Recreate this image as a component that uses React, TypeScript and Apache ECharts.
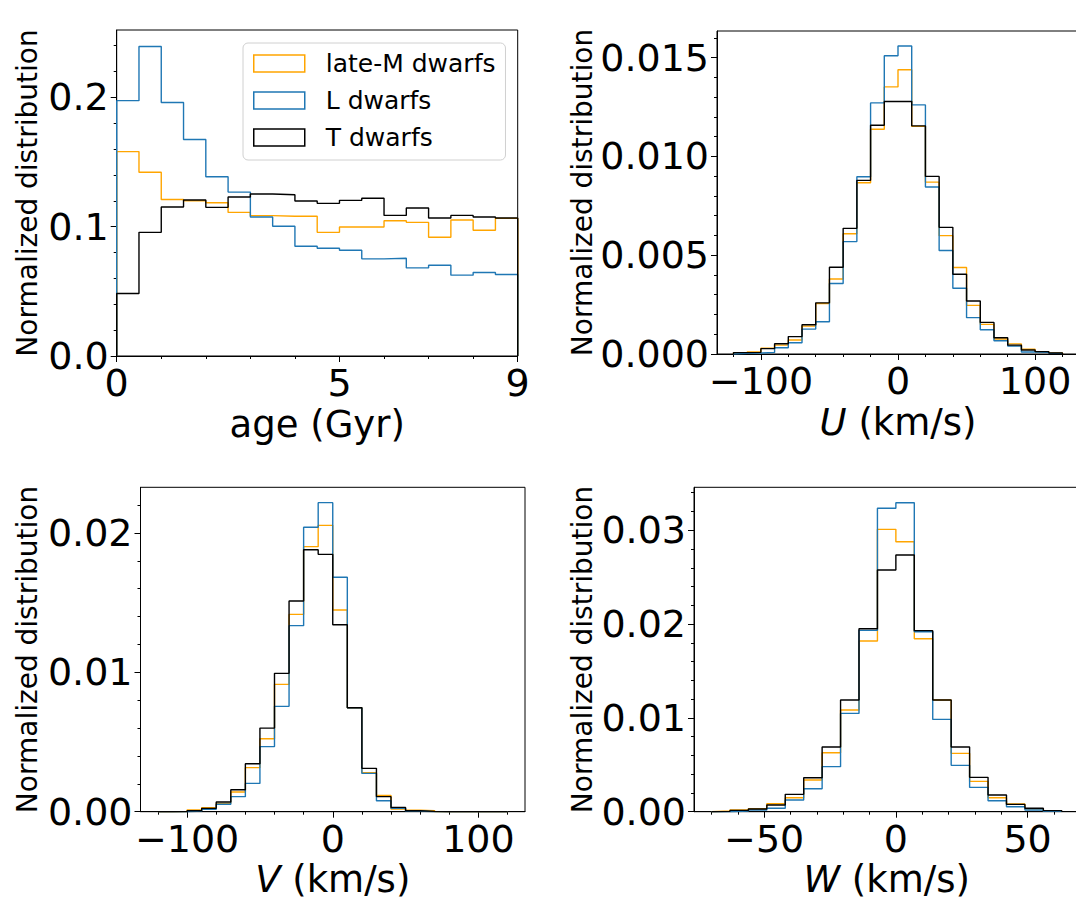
import React, { useEffect, useRef } from "react";
import * as echarts from "echarts";

const FONT = "DejaVu Sans";
const SERIES_NAMES = ["late-M dwarfs", "L dwarfs", "T dwarfs"];
const SERIES_COLORS = ["#FFA500", "#1f77b4", "#000000"];

// ---- age panel (bins of 0.5 Gyr) ----
const AGE_EDGES = [0, 0.5, 1, 1.5, 2, 2.5, 3, 3.5, 4, 4.5, 5, 5.5, 6, 6.5, 7, 7.5, 8, 8.5, 9];
const AGE_LATE_M = [0.158, 0.142, 0.121, 0.12, 0.1185, 0.111, 0.1085, 0.108, 0.108, 0.0956, 0.0997, 0.0997, 0.1046, 0.1033, 0.0918, 0.1051, 0.0972, 0.1064];
const AGE_L = [0.1974, 0.2393, 0.1959, 0.1674, 0.1386, 0.1267, 0.1074, 0.1003, 0.0848, 0.0833, 0.0817, 0.0751, 0.0756, 0.0681, 0.0702, 0.0625, 0.0645, 0.063];
const AGE_T = [0.0483, 0.0956, 0.1152, 0.1206, 0.1149, 0.1229, 0.1252, 0.1247, 0.1198, 0.118, 0.1203, 0.1219, 0.1087, 0.1144, 0.1067, 0.1087, 0.1075, 0.1067];

// ---- U and V panels (bins of 10 km/s) ----
const UV_EDGES = [-120, -110, -100, -90, -80, -70, -60, -50, -40, -30, -20, -10, 0, 10, 20, 30, 40, 50, 60, 70, 80, 90, 100, 110, 120];
const U_LATE_M = [0.00005, 0.0001, 0.00029, 0.00045, 0.00071, 0.00141, 0.00256, 0.0038, 0.00609, 0.00867, 0.01138, 0.01352, 0.01439, 0.01152, 0.0087, 0.00599, 0.00438, 0.00246, 0.0015, 0.00076, 0.00051, 0.00024, 0.00012, 0.00005];
const U_L = [0.00003, 0.00005, 0.00008, 0.00032, 0.00057, 0.00126, 0.00163, 0.00357, 0.00569, 0.00897, 0.01271, 0.0151, 0.01559, 0.01261, 0.00845, 0.00524, 0.00333, 0.00184, 0.00123, 0.00067, 0.0004, 0.0001, 0.00008, 0.00003];
const U_T = [0.00007, 0.00008, 0.00027, 0.00052, 0.00088, 0.00148, 0.00259, 0.00439, 0.00636, 0.00879, 0.01158, 0.01278, 0.01279, 0.01155, 0.00899, 0.00641, 0.00404, 0.00268, 0.0016, 0.00082, 0.00045, 0.0002, 0.00012, 0.00005];
const V_LATE_M = [0, 0.00001, 0.00012, 0.00029, 0.0006, 0.00141, 0.00316, 0.00524, 0.00914, 0.01416, 0.01902, 0.02055, 0.01447, 0.00746, 0.0028, 0.00117, 0.00019, 0.0001, 0.00007, 0, 0, 0, 0, 0];
const V_L = [0, 0, 0.00005, 0.00017, 0.00053, 0.00108, 0.00203, 0.00467, 0.00756, 0.01335, 0.02041, 0.02218, 0.01682, 0.00746, 0.00275, 0.00079, 0.00024, 0.00005, 0, 0, 0, 0, 0, 0];
const V_T = [0, 0.00001, 0.00007, 0.00024, 0.0007, 0.00158, 0.00344, 0.006, 0.00993, 0.01512, 0.0188, 0.01847, 0.01342, 0.00746, 0.00311, 0.00108, 0.00031, 0.00007, 0.00002, 0, 0, 0, 0, 0];

// ---- W panel (bins of 7 km/s) ----
const W_EDGES = [-70, -63, -56, -49, -42, -35, -28, -21, -14, -7, 0, 7, 14, 21, 28, 35, 42, 49, 56, 63];
const W_LATE_M = [0.00007, 0.00018, 0.00032, 0.00085, 0.00149, 0.00338, 0.00629, 0.01084, 0.0182, 0.0301, 0.02878, 0.01844, 0.0119, 0.00622, 0.00323, 0.00149, 0.00082, 0.00032, 0.00007];
const W_L = [0, 0.00007, 0.00018, 0.00036, 0.00124, 0.00245, 0.0048, 0.01048, 0.01933, 0.03234, 0.03294, 0.01919, 0.00984, 0.00494, 0.00259, 0.00117, 0.00053, 0.00018, 0.00004];
const W_T = [0.00004, 0.00014, 0.00028, 0.00071, 0.00185, 0.00362, 0.00689, 0.0119, 0.0195, 0.02576, 0.02736, 0.0193, 0.0119, 0.00689, 0.00366, 0.00178, 0.00078, 0.00036, 0.00011];

// ---- ticks ----
const AGE_X_MAJOR = [0, 5, 9];
const AGE_X_MINOR = [1, 2, 3, 4, 6, 7, 8];
const AGE_Y_MAJOR = [0, 0.1, 0.2];
const AGE_Y_MINOR = [0.02, 0.04, 0.06, 0.08, 0.12, 0.14, 0.16, 0.18, 0.22, 0.24];
const UV_X_MAJOR = [-100, 0, 100];
const UV_X_MINOR = [-120, -80, -60, -40, -20, 20, 40, 60, 80, 120];
const U_Y_MAJOR = [0, 0.005, 0.01, 0.015];
const U_Y_MINOR = [0.001, 0.002, 0.003, 0.004, 0.006, 0.007, 0.008, 0.009, 0.011, 0.012, 0.013, 0.014, 0.016];
const V_Y_MAJOR = [0, 0.01, 0.02];
const V_Y_MINOR = [0.002, 0.004, 0.006, 0.008, 0.012, 0.014, 0.016, 0.018, 0.022];
const W_X_MAJOR = [-50, 0, 50];
const W_X_MINOR = [-70, -60, -40, -30, -20, -10, 10, 20, 30, 40, 60];
const W_Y_MAJOR = [0, 0.01, 0.02, 0.03];
const W_Y_MINOR = [0.002, 0.004, 0.006, 0.008, 0.012, 0.014, 0.016, 0.018, 0.022, 0.024, 0.026, 0.028, 0.032, 0.034];

function stepPoints(edges: number[], values: number[]) {
  const pts: number[][] = [[edges[0], 0]];
  values.forEach((v, i) => {
    pts.push([edges[i], v]);
    pts.push([edges[i + 1], v]);
  });
  pts.push([edges[edges.length - 1], 0]);
  return pts;
}

const fmtX = (v: number) => (v < 0 ? "\u2212" + Math.abs(v) : String(v));

const PANELS = [
  {
    grid: { left: 116.7, top: 30, width: 401, height: 326 },
    xMin: 0, xMax: 9, yMax: 0.252,
    xMajor: AGE_X_MAJOR, xMinor: AGE_X_MINOR, yMajor: AGE_Y_MAJOR, yMinor: AGE_Y_MINOR,
    yDigits: 1, xName: "age (Gyr)", xNameGap: 50, yNameGap: 75,
    edges: AGE_EDGES, data: [AGE_LATE_M, AGE_L, AGE_T],
  },
  {
    grid: { left: 717, top: 31, width: 362, height: 323 },
    xMin: -132, xMax: 132, yMax: 0.01635,
    xMajor: UV_X_MAJOR, xMinor: UV_X_MINOR, yMajor: U_Y_MAJOR, yMinor: U_Y_MINOR,
    yDigits: 3, xName: "{it|U} (km/s)", xNameGap: 50, yNameGap: 121,
    edges: UV_EDGES, data: [U_LATE_M, U_L, U_T],
  },
  {
    grid: { left: 140.5, top: 487.3, width: 384.5, height: 324.4 },
    xMin: -132, xMax: 132, yMax: 0.02328,
    xMajor: UV_X_MAJOR, xMinor: UV_X_MINOR, yMajor: V_Y_MAJOR, yMinor: V_Y_MINOR,
    yDigits: 2, xName: "{it|V} (km/s)", xNameGap: 49, yNameGap: 99,
    edges: UV_EDGES, data: [V_LATE_M, V_L, V_T],
  },
  {
    grid: { left: 694, top: 487.3, width: 385.3, height: 324.4 },
    xMin: -76.65, xMax: 69.65, yMax: 0.03458,
    xMajor: W_X_MAJOR, xMinor: W_X_MINOR, yMajor: W_Y_MAJOR, yMinor: W_Y_MINOR,
    yDigits: 2, xName: "{it|W} (km/s)", xNameGap: 49, yNameGap: 98,
    edges: W_EDGES, data: [W_LATE_M, W_L, W_T],
  },
];

function buildOption() {
  const axisLineStyle = { color: "#000", width: 1 };
  const grids: any[] = [];
  const xAxes: any[] = [];
  const yAxes: any[] = [];
  const series: any[] = [];
  PANELS.forEach((p, k) => {
    grids.push({ ...p.grid, show: true, borderColor: "#000", borderWidth: 1, backgroundColor: "#fff", containLabel: false });
    // minor-tick x axis (carries the series)
    xAxes.push({
      type: "value", gridIndex: k, position: "bottom", min: p.xMin, max: p.xMax,
      axisLine: { show: true, onZero: false, lineStyle: axisLineStyle },
      axisTick: { show: true, customValues: p.xMinor, length: 3, lineStyle: axisLineStyle },
      axisLabel: { show: false }, splitLine: { show: false },
    });
    // major-tick x axis with labels and name
    xAxes.push({
      type: "value", gridIndex: k, position: "bottom", min: p.xMin, max: p.xMax,
      axisLine: { show: false, onZero: false },
      axisTick: { show: true, customValues: p.xMajor, length: 6, lineStyle: axisLineStyle },
      axisLabel: { show: true, customValues: p.xMajor, formatter: fmtX, fontSize: 38, fontFamily: FONT, color: "#000", margin: 8 },
      splitLine: { show: false },
      name: p.xName, nameLocation: "middle", nameGap: p.xNameGap,
      nameTextStyle: {
        fontSize: 37, fontFamily: FONT, color: "#000",
        rich: { it: { fontSize: 37, fontFamily: FONT, fontStyle: "italic", color: "#000" } },
      },
    });
    yAxes.push({
      type: "value", gridIndex: k, position: "left", min: 0, max: p.yMax,
      axisLine: { show: true, onZero: false, lineStyle: axisLineStyle },
      axisTick: { show: true, customValues: p.yMinor, length: 3, lineStyle: axisLineStyle },
      axisLabel: { show: false }, splitLine: { show: false },
    });
    yAxes.push({
      type: "value", gridIndex: k, position: "left", min: 0, max: p.yMax,
      axisLine: { show: false, onZero: false },
      axisTick: { show: true, customValues: p.yMajor, length: 6, lineStyle: axisLineStyle },
      axisLabel: {
        show: true, customValues: p.yMajor, formatter: (v: number) => v.toFixed(p.yDigits),
        fontSize: 38, fontFamily: FONT, color: "#000", margin: 8,
      },
      splitLine: { show: false },
      name: "Normalized distribution", nameLocation: "middle", nameRotate: 90, nameGap: p.yNameGap,
      nameTextStyle: { fontSize: 28, fontFamily: FONT, color: "#000" },
    });
    p.data.forEach((vals, i) => {
      series.push({
        type: "line", name: SERIES_NAMES[i], xAxisIndex: 2 * k, yAxisIndex: 2 * k,
        data: stepPoints(p.edges, vals), showSymbol: false, symbol: "none", silent: true,
        lineStyle: { color: SERIES_COLORS[i], width: 1.4 }, itemStyle: { color: SERIES_COLORS[i] },
        z: 2 + i,
      });
    });
  });
  return {
    animation: false,
    backgroundColor: "#fff",
    textStyle: { fontFamily: FONT },
    grid: grids,
    xAxis: xAxes,
    yAxis: yAxes,
    legend: {
      orient: "vertical", left: 243, top: 43, selectedMode: false,
      icon: "rect", itemWidth: 51, itemHeight: 17, itemGap: 12,
      data: SERIES_NAMES.map((n, i) => ({
        name: n,
        itemStyle: { color: "rgba(0,0,0,0)", borderColor: SERIES_COLORS[i], borderWidth: 1.5 },
      })),
      textStyle: { fontSize: 25, fontFamily: FONT, color: "#000", padding: [0, 0, 0, 16] },
      backgroundColor: "rgba(255,255,255,0.8)", borderColor: "#d0d0d0", borderWidth: 1, borderRadius: 5,
      padding: [8, 10, 10, 10],
    },
    series,
  };
}

export default function App() {
  const ref = useRef<HTMLDivElement>(null);
  useEffect(() => {
    const chart = echarts.init(ref.current!, null, { renderer: "svg" });
    chart.setOption(buildOption() as any);
    return () => chart.dispose();
  }, []);
  return (
    <div style={{ position: "fixed", left: 0, top: 0, width: 1076, height: 902, overflow: "hidden", background: "#fff" }}>
      <div ref={ref} style={{ width: 1090, height: 902 }} />
    </div>
  );
}
